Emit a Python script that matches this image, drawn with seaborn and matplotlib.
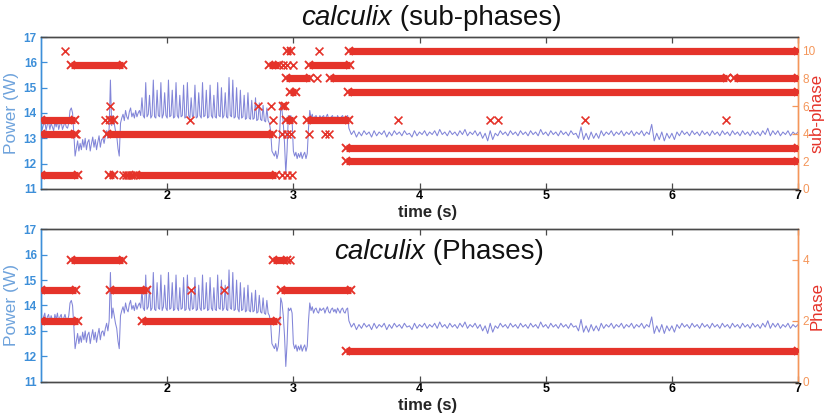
import numpy as np
import pandas as pd
import matplotlib
matplotlib.use("Agg")
import matplotlib.pyplot as plt
import seaborn as sns

sns.set_theme(style="white")
plt.rcParams["font.family"] = ["Liberation Sans", "DejaVu Sans"]

# ---------------- power trace (W) ----------------
# 1.00 .. 1.79 s, every 0.01 s
power_a = [13.6, 13.35, 13.55, 13.7, 13.3, 13.55, 13.65, 13.35, 13.6, 13.45,
           13.3, 13.65, 13.45, 13.7, 13.35, 13.55, 13.65, 13.35, 13.5, 13.65,
           13.45, 13.4,
           13.6, 14.1, 14.2, 14.0, 13.2,
           12.3, 12.6, 12.9, 12.5,
           12.8, 12.55, 12.95, 12.65, 13.0, 12.55, 12.85, 12.95, 12.5, 12.8,
           13.05, 12.65, 12.95, 12.55, 12.85, 13.1, 12.65, 12.95, 13.0,
           12.8, 13.1, 13.3, 13.0, 13.4,
           15.3,
           13.5, 13.9, 13.6, 13.3, 13.1, 12.6, 12.3, 13.6,
           13.8, 13.95, 13.7, 14.1, 13.85, 13.75, 14.05, 14.2, 13.85, 14.0,
           13.8, 14.1, 13.85, 14.0, 14.1, 13.9]
# 1.80 .. 2.81 s, every 0.01 s (spiky phase)
power_b = [14.6, 13.9, 13.8, 15.2, 13.85, 13.95, 14.7, 13.8, 13.9,
           15.3, 13.85, 13.8, 14.9, 13.9, 13.85, 15.2, 13.8, 13.95,
           14.8, 13.9, 13.8, 15.3, 13.85, 13.9, 14.9, 13.8, 13.85,
           15.2, 13.9, 13.8, 14.7, 13.85, 13.9, 15.1, 13.8, 13.85,
           15.2, 13.9, 13.8, 14.6, 13.85, 13.9, 15.1, 13.8, 13.85,
           14.8, 13.9, 13.8, 15.2, 13.85, 13.9, 14.9, 13.8, 13.85,
           15.1, 13.9, 13.8, 14.7, 13.85, 13.8, 15.2, 13.9, 13.85,
           15.0, 13.8, 13.9, 14.8, 13.85, 13.8, 15.4, 13.9, 13.85,
           15.3, 13.8, 13.85, 15.0, 13.85, 13.75, 14.9, 13.8, 13.85,
           14.7, 13.75, 13.8, 14.8, 13.8, 13.75, 14.5, 13.75, 13.8,
           14.6, 13.7, 13.75, 14.4, 13.75, 13.7, 14.3, 13.7, 13.65,
           14.2, 13.7, 13.6]
# 2.82 .. 3.43 s, every 0.01 s
power_c = [13.3, 12.5, 12.4, 12.3, 12.5, 12.2, 12.4,
           13.0, 14.3, 14.1, 13.6,
           12.8, 11.6, 12.5,
           13.9, 13.8, 13.9, 13.7,
           12.5, 12.3, 12.45, 12.2, 12.4, 12.25, 12.45, 12.2, 12.35, 12.45,
           12.2, 12.4,
           13.4, 14.1,
           13.8, 13.95, 13.7, 13.85, 13.9, 13.75, 13.7, 13.9, 13.8, 13.85,
           13.9, 13.7, 13.85, 13.95, 13.75, 13.7, 13.85, 13.9, 13.75, 13.85,
           13.7, 13.9, 13.8, 13.7, 13.85, 13.9, 13.75, 13.7, 13.85, 13.9]
# 3.44 .. 7.00 s, every 0.02 s
power_d = [13.4, 13.15, 13.3, 13.05, 13.25, 13.1, 13.3, 13.15, 13.25, 13.05,
           13.3, 13.1, 13.25, 13.15, 13.3, 13.05, 13.25, 13.1, 13.3, 13.15,
           13.25, 13.1, 13.3, 13.15, 13.2, 13.05, 13.3, 13.1, 13.25, 13.15,
           13.3, 13.1, 13.25, 13.15, 13.3, 13.1, 13.35, 13.15, 13.25, 13.1,
           13.3, 13.15, 13.25, 13.1, 13.3, 13.15, 13.35, 13.1, 13.25, 13.15,
           13.3, 13.1, 13.25, 13.0, 13.2, 12.9, 13.3, 12.95, 13.2, 13.1,
           13.3, 13.15, 13.25, 13.1, 13.3, 13.15, 13.25, 13.1, 13.3, 13.15,
           13.25, 13.1, 13.3, 13.15, 13.25, 13.1, 13.35, 13.15, 13.25, 13.1,
           13.3, 13.15, 13.25, 13.1, 13.3, 13.15, 13.25, 13.1, 13.3, 13.15,
           13.2, 13.0, 13.45, 12.95, 13.2, 12.95, 13.25, 13.0, 13.2, 13.0,
           13.3, 13.1, 13.25, 13.15, 13.3, 13.1, 13.25, 13.15, 13.3, 13.1,
           13.25, 13.15, 13.3, 13.1, 13.25, 13.15, 13.3, 13.1, 13.25, 13.15,
           13.55, 12.9, 13.2, 12.95, 13.25, 12.9, 13.2, 13.0, 13.2, 12.95,
           13.25, 13.1, 13.3, 13.15, 13.25, 13.1, 13.3, 13.15, 13.25, 13.1,
           13.3, 13.15, 13.25, 13.1, 13.3, 13.15, 13.25, 13.1, 13.3, 13.15,
           13.25, 13.1, 13.3, 13.15, 13.25, 13.1, 13.3, 13.15, 13.25, 13.1,
           13.3, 13.15, 13.25, 13.1, 13.3, 13.15, 13.4, 13.1, 13.3, 13.15,
           13.3, 13.1, 13.25, 13.15, 13.3, 13.1, 13.25, 13.15, 13.25]

# sample instants of each stretch
time_a = 1.00 + 0.01 * np.arange(len(power_a))
time_b = 1.80 + 0.01 * np.arange(len(power_b))
time_c = 2.82 + 0.01 * np.arange(len(power_c))
time_d = 3.44 + 0.02 * np.arange(len(power_d))

# ---------------- sub-phases (top panel) ----------------
sub_run_start = [2.95, 3.44, 1.24, 2.81, 3.12, 2.94, 3.29, 6.49, 2.97, 3.43,
                 2.915, 1.00, 1.55, 2.94, 3.11, 1.00, 1.52, 3.42, 3.42,
                 1.00, 1.54, 1.75]
sub_run_end = [2.985, 7.00, 1.65, 2.89, 3.45, 3.13, 6.44, 7.00, 3.02, 7.00,
               2.935, 1.27, 1.58, 3.00, 3.44, 1.27, 2.84, 7.00, 7.00,
               1.29, 1.58, 2.86]
sub_run_level = [10, 10, 9, 9, 9, 8, 8, 8, 7, 7,
                 6, 5, 5, 5, 5, 4, 4, 3, 2,
                 1, 1, 1]
sub_single_time = [1.19, 3.20, 2.92, 2.95, 3.00, 3.19, 1.55, 2.72, 2.82,
                   1.51, 2.18, 2.84, 3.83, 4.56, 4.62, 5.31, 6.43,
                   1.28, 2.91, 2.95, 2.98, 3.12, 3.25, 3.28,
                   1.65, 1.67, 1.69, 1.71, 1.73, 2.91, 2.95, 2.99]
sub_single_level = [10, 10, 9, 9, 9, 8, 6, 6, 6,
                    5, 5, 5, 5, 5, 5, 5, 5,
                    4, 4, 4, 4, 4, 4, 4,
                    1, 1, 1, 1, 1, 1, 1, 1]

# ---------------- phases (bottom panel) ----------------
ph_run_start = [1.24, 2.84, 1.00, 1.55, 2.90, 1.00, 1.80, 3.42]
ph_run_end = [1.65, 2.95, 1.28, 1.84, 3.46, 1.29, 2.87, 7.00]
ph_run_level = [4, 4, 3, 3, 3, 2, 2, 1]
ph_single_time = [2.97, 2.185, 2.45]
ph_single_level = [4, 3, 3]

RED = "#E5332A"
TRACE = "#7B7FD6"
BLUE = "#3D8FD9"
BLUE_LBL = "#6FA3DC"
ORANGE = "#F4965A"
GREY = "#4A4A4A"

fig = plt.figure(figsize=(8.27, 4.13), dpi=100)
fig.patch.set_facecolor("white")

power_df = pd.DataFrame({
    "time": np.concatenate([time_a, time_b, time_c, time_d]),
    "power": np.concatenate([power_a, power_b, power_c, power_d]),
})


def draw_panel(rect, run_start, run_end, run_level, single_t, single_l,
               right_label, right_ylim, right_ticks):
    ax = fig.add_axes(rect)
    sns.lineplot(data=power_df, x="time", y="power", ax=ax, color=TRACE,
                 lw=0.75, estimator=None, sort=False, alpha=0.95)
    ax.set_xlim(1.0, 7.0)
    ax.set_ylim(11, 17)
    ax.set_xticks([2, 3, 4, 5, 6, 7])
    ax.set_xticklabels(["2", "3", "4", "5", "6", "7"], fontweight="bold")
    ax.set_yticks([11, 12, 13, 14, 15, 16, 17])
    ax.set_yticklabels(["11", "12", "13", "14", "15", "16", "17"],
                       fontweight="bold")
    ax.tick_params(axis="x", direction="in", top=True, bottom=True,
                   length=4, width=0.9, color=GREY, labelcolor="black",
                   labelsize=9, pad=1)
    ax.tick_params(axis="y", direction="in", left=True, right=False,
                   length=4, width=0.9, color=BLUE, labelcolor=BLUE,
                   labelsize=8.5, pad=3)
    ax.set_xlabel("time (s)", fontsize=12, fontweight="bold")
    ax.xaxis.set_label_coords(0.51, -0.105)
    ax.set_ylabel("Power (W)", fontsize=12.5, color=BLUE_LBL, labelpad=3)

    ax2 = ax.twinx()
    for s, e, lv in zip(run_start, run_end, run_level):
        ax2.plot([s, e], [lv, lv], color=RED, lw=5.2, solid_capstyle="butt",
                 marker="x", ms=5.5, mew=1.4, zorder=3)
    single_df = pd.DataFrame({"t": single_t, "lv": single_l})
    sns.scatterplot(data=single_df, x="t", y="lv", ax=ax2, marker="x",
                    color=RED, s=32, linewidth=1.2, zorder=4)
    ax2.set_ylim(*right_ylim)
    ax2.set_yticks(right_ticks)
    ax2.set_yticklabels([str(v) for v in right_ticks])
    ax2.tick_params(axis="y", direction="in", right=True, left=False,
                    length=4, width=0.9, color=ORANGE, labelcolor=ORANGE,
                    labelsize=8.5, pad=3)
    ax2.set_ylabel(right_label, fontsize=12.2, color=RED, rotation=90,
                   va="center")
    ax2.yaxis.set_label_coords(1.0253, 0.5)
    ax2.set_xlim(1.0, 7.0)
    for a in (ax, ax2):
        a.spines["left"].set_color(BLUE)
        a.spines["right"].set_color(ORANGE)
        a.spines["top"].set_color(GREY)
        a.spines["bottom"].set_color(GREY)
        for sp in a.spines.values():
            sp.set_linewidth(1.0)
            sp.set_visible(True)
    ax.grid(False)
    ax2.grid(False)
    return ax, ax2


draw_panel([0.0496, 0.5424, 0.9154, 0.368], sub_run_start, sub_run_end,
           sub_run_level, sub_single_time, sub_single_level,
           "sub-phase", (0, 11), [0, 2, 4, 6, 8, 10])
draw_panel([0.0496, 0.0758, 0.9154, 0.369], ph_run_start, ph_run_end,
           ph_run_level, ph_single_time, ph_single_level,
           "Phase", (0, 5), [0, 2, 4])

# titles: italic benchmark name + plain suffix
fig.text(0.474, 0.956, "calculix", fontsize=20, fontstyle="italic",
         ha="right", va="center", color="#111111")
fig.text(0.474, 0.956, " (sub-phases)", fontsize=20, ha="left", va="center",
         color="#111111")
fig.text(0.514, 0.391, "calculix", fontsize=20, fontstyle="italic",
         ha="right", va="center", color="#111111")
fig.text(0.514, 0.391, " (Phases)", fontsize=20, ha="left", va="center",
         color="#111111")

fig.savefig("out.png", dpi=100, facecolor="white")
